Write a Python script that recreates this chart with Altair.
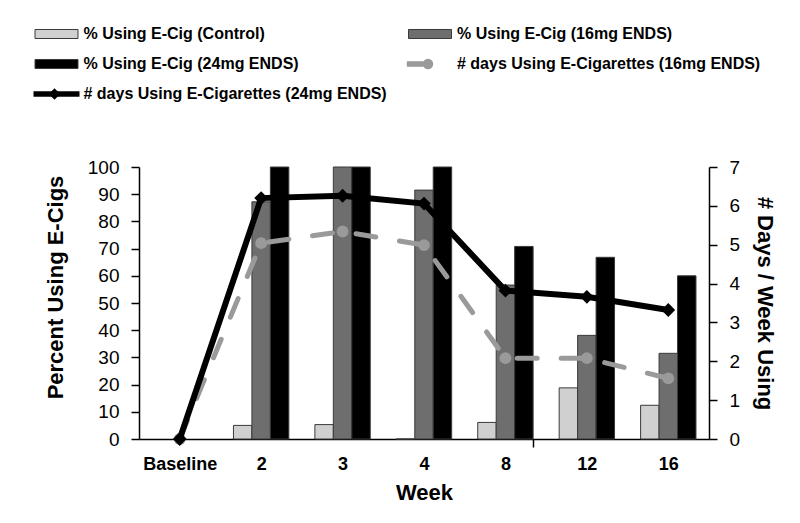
import altair as alt
import pandas as pd

weeks = ["Baseline", "2", "3", "4", "8", "12", "16"]
bar_series = ["% Using E-Cig (Control)", "% Using E-Cig (16mg ENDS)", "% Using E-Cig (24mg ENDS)"]
pct_control = [None, 5.0, 5.3, 0.0, 6.1, 18.8, 12.4]
pct_16mg = [None, 87.2, 100.0, 91.5, 56.6, 38.1, 31.5]
pct_24mg = [None, 100.0, 100.0, 100.0, 70.8, 66.8, 60.0]

line_series = ["# days Using E-Cigarettes (16mg ENDS)", "# days Using E-Cigarettes (24mg ENDS)"]
days_16mg = [0.0, 5.04, 5.34, 4.99, 2.08, 2.08, 1.56]
days_24mg = [0.0, 6.20, 6.26, 6.06, 3.82, 3.66, 3.32]

legend_cols = [0, 1, 0, 1, 0]
legend_rows = [0, 0, 1, 1, 2]
legend_kind = ["bar", "bar", "bar", "line16", "line24"]

bar_colors = ["#d0d0d0", "#6e6e6e", "#000000"]
line_colors = ["#9a9a9a", "#000000"]
FONT = "Liberation Sans"

rows = []
for s, vals in zip(bar_series, [pct_control, pct_16mg, pct_24mg]):
    for w, v in zip(weeks, vals):
        if v is not None:
            rows.append({"week": w, "series": s, "value": v})
bars_df = pd.DataFrame(rows)

lrows = []
for s, vals in zip(line_series, [days_16mg, days_24mg]):
    for w, v in zip(weeks, vals):
        lrows.append({"week": w, "series": s, "days": v})
lines_df = pd.DataFrame(lrows)

all_labels = bar_series + line_series
all_colors = bar_colors + line_colors
leg_df = pd.DataFrame({"label": all_labels, "col": legend_cols, "row": legend_rows, "kind": legend_kind})

xscale = alt.Scale(domain=weeks, paddingInner=0.32, paddingOuter=0.16)
xaxis = alt.Axis(title="Week", labelAngle=0, labelFont=FONT, labelFontSize=18, labelFontWeight="bold",
                 labelColor="black", titleFont=FONT, titleFontSize=22, titleFontWeight="bold",
                 titleColor="black", tickBand="extent", tickSize=8, tickColor="black", tickWidth=1.5,
                 tickOpacity=alt.ExprRef("datum.value == '8' ? 1 : 0"),
                 domainColor="black", domainWidth=1.5, labelPadding=8, titlePadding=9)

axis_common = dict(grid=False, labelFont=FONT, labelFontSize=19, labelColor="black", tickColor="black",
                   tickSize=8, tickWidth=1.5, domainColor="black", domainWidth=1.5, titleFont=FONT,
                   titleFontSize=22, titleFontWeight="bold", titleColor="black", labelPadding=12)

fill_all = alt.Fill("series:N", scale=alt.Scale(domain=all_labels, range=all_colors), legend=None)

bars = alt.Chart(bars_df).mark_bar(stroke="#3a3a3a", strokeWidth=1).encode(
    x=alt.X("week:N", scale=xscale, sort=weeks, axis=xaxis),
    xOffset=alt.XOffset("series:N", scale=alt.Scale(domain=bar_series, paddingInner=0, paddingOuter=0)),
    y=alt.Y("value:Q", scale=alt.Scale(domain=[0, 100], nice=False),
            axis=alt.Axis(title="Percent Using E-Cigs", values=list(range(0, 101, 10)),
                          titlePadding=20, titleY=120, **axis_common)),
    fill=fill_all,
)

yright = alt.Y("days:Q", scale=alt.Scale(domain=[0, 7], nice=False),
               axis=alt.Axis(title="# Days / Week Using", orient="right", values=list(range(0, 8)),
                             titlePadding=13, **axis_common))
xl = alt.X("week:N", scale=xscale, sort=weeks)

l16 = alt.Chart(lines_df[lines_df.series == line_series[0]])
line16 = l16.mark_line(color=line_colors[0], strokeWidth=5, strokeDash=[20, 24], strokeCap="round").encode(
    x=xl, y=yright)
pt16 = l16.mark_point(shape="circle", filled=True, size=140, color=line_colors[0], opacity=1).encode(
    x=xl, y=yright)

l24 = alt.Chart(lines_df[lines_df.series == line_series[1]])
line24 = l24.mark_line(color=line_colors[1], strokeWidth=6).encode(x=xl, y=yright)
pt24 = l24.mark_point(shape="diamond", filled=True, size=190, color=line_colors[1], opacity=1).encode(
    x=xl, y=yright)

lines = alt.layer(line16, pt16, line24, pt24)
main = alt.layer(bars, lines).resolve_scale(y="independent")

# legend (placed above the plot area through its own scales)
lx = alt.X("col:Q", scale=alt.Scale(domain=[0, 1], range=[-82.5, 291], nice=False, zero=False), axis=None)
ly = alt.Y("row:Q", scale=alt.Scale(domain=[0, 2], range=[-133, -73], nice=False, zero=False), axis=None)
leg_fill = alt.Fill("label:N", scale=alt.Scale(domain=all_labels, range=all_colors), legend=None)
leg_color = alt.Color("label:N", scale=alt.Scale(domain=all_labels, range=all_colors), legend=None)
leg = alt.Chart(leg_df)
rect_path = "M-1,-0.21H1V0.21H-1Z"
thin_path = "M-1,-0.12H1V0.12H-1Z"
leg_bar = leg.transform_filter("datum.kind == 'bar'").mark_point(
    shape=rect_path, size=1849, filled=True, stroke="#3a3a3a", strokeWidth=1, opacity=1).encode(
    x=lx, y=ly, fill=leg_fill)
leg_l24 = leg.transform_filter("datum.kind == 'line24'").mark_point(
    shape=thin_path, size=2116, filled=True, opacity=1).encode(x=lx, y=ly, color=leg_color)
leg_d = leg.transform_filter("datum.kind == 'line24'").mark_point(
    shape="diamond", filled=True, size=130, opacity=1, xOffset=-2).encode(x=lx, y=ly, color=leg_color)
leg_l16 = leg.transform_filter("datum.kind == 'line16'").mark_point(
    shape="M-1,-0.25H1V0.25H-1Z", size=500, filled=True, opacity=1, xOffset=-12).encode(
    x=lx, y=ly, color=leg_color)
leg_c = leg.transform_filter("datum.kind == 'line16'").mark_point(
    shape="circle", filled=True, size=110, opacity=1, xOffset=-2).encode(x=lx, y=ly, color=leg_color)
leg_t = leg.mark_text(align="left", baseline="middle", dx=27, font=FONT,
                      fontSize=16, fontWeight="bold", color="black").encode(x=lx, y=ly, text="label:N")
legend = alt.layer(leg_bar, leg_l24, leg_d, leg_l16, leg_c, leg_t)

chart = alt.layer(main, legend).resolve_scale(x="independent", y="independent").properties(
    width=570, height=272, padding={"left": 25, "top": 18, "right": 5, "bottom": 5}
).configure_view(stroke=None)

chart.save("out.html", embed_options={"renderer": "svg", "actions": False})
